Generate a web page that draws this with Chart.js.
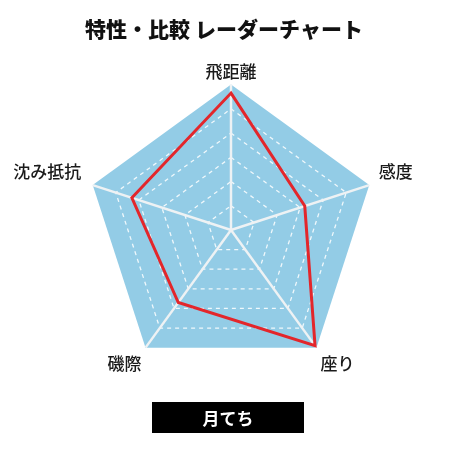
<!DOCTYPE html>
<html>
<head>
<meta charset="utf-8">
<script src="https://cdn.jsdelivr.net/npm/chart.js@4/dist/chart.umd.min.js"></script>
<style>
html,body{margin:0;padding:0;background:#fff;}
#wrap{width:460px;height:460px;position:relative;}
</style>
</head>
<body>
<div id="wrap"><canvas id="c" width="460" height="460"></canvas></div>
<script>
const chartTitle = "特性・比較 レーダーチャート";
const categories = ["飛距離", "感度", "座り", "磯際", "沈み抵抗"];
const seriesName = "月てち";
const seriesValues = [5.65, 3.2, 5.9, 3.7, 4.3];
const scaleMax = 6;

const FONT = "'Noto Sans CJK JP', 'Noto Sans', sans-serif";
const labelPadding = [3, 10, 7, 7, 12];

const nameBox = {
  id: 'nameBox',
  afterDraw(chart) {
    const ctx = chart.ctx;
    const label = chart.data.datasets[0].label;
    const w = 152, h = 31;
    const cx = 228, top = 402;
    ctx.save();
    ctx.fillStyle = '#000';
    ctx.fillRect(cx - w / 2, top, w, h);
    ctx.fillStyle = '#fff';
    ctx.font = "bold 17px " + FONT;
    ctx.textAlign = 'center';
    ctx.textBaseline = 'middle';
    ctx.fillText(label, cx, top + h / 2 + 1);
    ctx.restore();
  }
};

new Chart(document.getElementById('c'), {
  type: 'radar',
  data: {
    labels: categories,
    datasets: [{
      label: seriesName,
      data: seriesValues,
      borderColor: '#e3262b',
      borderWidth: 3,
      backgroundColor: 'rgba(0,0,0,0)',
      fill: false,
      pointRadius: 0,
      pointHoverRadius: 0,
      tension: 0
    }]
  },
  options: {
    responsive: false,
    animation: false,
    devicePixelRatio: 1,
    layout: { padding: { left: 0, right: 12, top: 0, bottom: 72 } },
    plugins: {
      legend: { display: false },
      tooltip: { enabled: false },
      title: {
        display: true,
        text: chartTitle,
        color: '#111',
        font: { family: FONT, size: 21, weight: '900' },
        padding: { top: 16, bottom: 9 }
      }
    },
    scales: {
      r: {
        min: 0,
        max: scaleMax,
        backgroundColor: '#93cce6',
        ticks: { display: false, stepSize: 1 },
        grid: {
          color: (ctx) => (ctx.tick && ctx.tick.value >= scaleMax) ? 'rgba(0,0,0,0)' : 'rgba(255,255,255,0.85)',
          lineWidth: 1.3
        },
        border: { dash: [4, 4] },
        angleLines: { color: '#eef2f4', lineWidth: 2.5 },
        pointLabels: {
          color: '#1a1a1a',
          padding: (ctx) => labelPadding[ctx.index],
          font: { family: FONT, size: 17, weight: '500' }
        }
      }
    }
  },
  plugins: [nameBox]
});
</script>
</body>
</html>
